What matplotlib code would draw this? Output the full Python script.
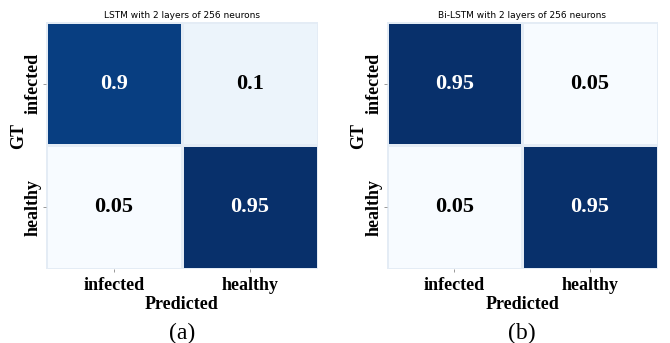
import numpy as np
import matplotlib
matplotlib.use("Agg")
import matplotlib.pyplot as plt
import seaborn as sns

classes = ["infected", "healthy"]

lstm_cm = [[0.9, 0.1],
           [0.05, 0.95]]
bilstm_cm = [[0.95, 0.05],
             [0.05, 0.95]]

titles = ["LSTM with 2 layers of 256 neurons",
          "Bi-LSTM with 2 layers of 256 neurons"]
panel_tags = ["(a)", "(b)"]

serif = "Liberation Serif"

fig = plt.figure(figsize=(6.7, 3.43), dpi=100)
ax_a = fig.add_axes([0.0686, 0.216, 0.406, 0.72])
ax_b = fig.add_axes([0.577, 0.216, 0.405, 0.72])

for ax, cm, title, tag in zip([ax_a, ax_b], [lstm_cm, bilstm_cm], titles, panel_tags):
    cm = np.array(cm)
    sns.heatmap(cm, ax=ax, cmap="Blues", vmin=0.05, vmax=0.95,
                annot=False, cbar=False, linewidths=1, linecolor="#e4ecf5",
                xticklabels=classes, yticklabels=classes, square=False)
    # value labels: white on dark cells, black on light ones
    for i in range(cm.shape[0]):
        for j in range(cm.shape[1]):
            ax.text(j + 0.5, i + 0.5, f"{cm[i, j]:g}", ha="center", va="center",
                    family=serif, weight="bold", fontsize=16,
                    color="white" if cm[i, j] > 0.5 else "black")
    ax.set_title(title, fontsize=6.5, family="DejaVu Sans", pad=3)
    ax.set_xticklabels(classes, family=serif, weight="bold", fontsize=13, rotation=0)
    ax.set_yticklabels(classes, family=serif, weight="bold", fontsize=13,
                       rotation=90, va="center")
    ax.tick_params(axis="both", length=2, width=0.6, color="#888888", pad=1)
    ax.tick_params(axis="x", pad=4)
    ax.set_xlabel("Predicted", family=serif, weight="bold", fontsize=13, labelpad=1)
    ax.set_ylabel("GT", family=serif, weight="bold", fontsize=13)
    ax.yaxis.set_label_coords(-0.07, 0.54)
    ax.text(0.5, -0.26, tag, transform=ax.transAxes, ha="center", va="center",
            family=serif, fontsize=17)

fig.savefig("out.png", dpi=100)
